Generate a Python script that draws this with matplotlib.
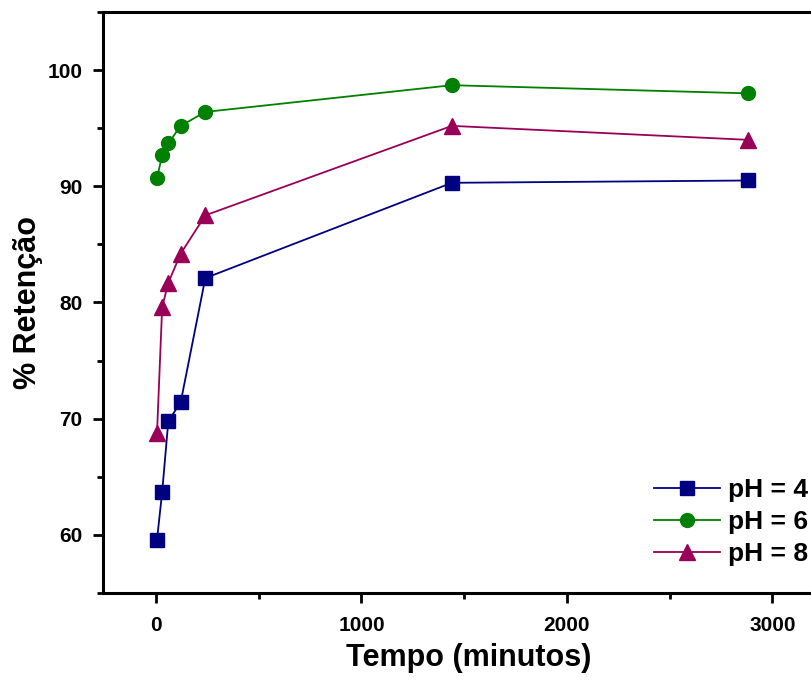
import matplotlib
matplotlib.use("Agg")
import matplotlib.pyplot as plt
from matplotlib.ticker import MultipleLocator

plt.rcParams['font.family'] = ['Liberation Sans', 'DejaVu Sans']
plt.rcParams['font.weight'] = 'bold'

# tempo de contato (minutos)
tempo = [5, 30, 60, 120, 240, 1440, 2880]

# % retencao para cada pH
ret_ph4 = [59.6, 63.7, 69.8, 71.4, 82.1, 90.3, 90.5]
ret_ph6 = [90.7, 92.7, 93.7, 95.2, 96.4, 98.7, 98.0]
ret_ph8 = [68.8, 79.6, 81.7, 84.2, 87.5, 95.2, 94.0]

labels = ['pH = 4', 'pH = 6', 'pH = 8']
colors = ['#000080', '#008000', '#990058']
markers = ['s', 'o', '^']
msizes = [10.5, 10, 11]

fig = plt.figure(figsize=(8.11, 6.86), dpi=100)
# axes runs past the right edge of the figure, like the original crop
ax = fig.add_axes([103 / 811, 93 / 686, 731 / 811, 581 / 686])

for y, lab, c, m, ms in zip([ret_ph4, ret_ph6, ret_ph8], labels, colors, markers, msizes):
    ax.plot(tempo, y, color=c, marker=m, markersize=ms, lw=1.3,
            markeredgecolor=c, label=lab)

ax.set_xlim(-258, 3300)
ax.set_ylim(55, 105)
ax.xaxis.set_major_locator(MultipleLocator(1000))
ax.xaxis.set_minor_locator(MultipleLocator(500))
ax.yaxis.set_major_locator(MultipleLocator(10))
ax.yaxis.set_minor_locator(MultipleLocator(5))
ax.set_yticks([60, 70, 80, 90, 100])

for s in ['left', 'bottom', 'top']:
    ax.spines[s].set_linewidth(2.2)
ax.spines['right'].set_visible(False)

ax.tick_params(which='major', direction='out', length=7, width=2, labelsize=15)
ax.tick_params(axis='x', which='major', pad=9.5)
ax.tick_params(axis='y', which='major', pad=8)
ax.tick_params(which='minor', direction='out', length=4.5, width=2)
ax.tick_params(top=False, right=False, which='both')

ax.set_xlabel('Tempo (minutos)', fontsize=22, fontweight='bold', labelpad=6)
ax.set_ylabel('% Retenção', fontsize=22, fontweight='bold', labelpad=3)

fig.legend(loc='center left', bbox_to_anchor=(654 / 811, 164 / 686),
           frameon=False, fontsize=19, handlelength=2.5, handletextpad=0.3,
           labelspacing=0.3, borderpad=0, borderaxespad=0)

fig.savefig('out.png', dpi=100)
